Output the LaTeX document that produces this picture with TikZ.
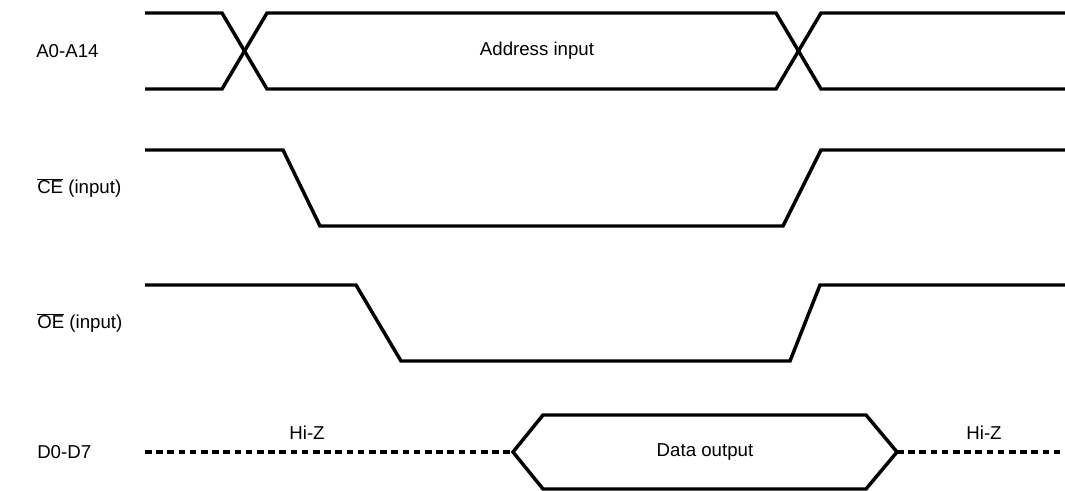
\documentclass[tikz,border=0pt]{standalone}
\usepackage{fontspec}
\setmainfont{Liberation Sans}
\begin{document}
\begin{tikzpicture}[x=0.75pt,y=-0.75pt,
  wave/.style={line width=2.6pt,line join=miter,black},
  hiz/.style={line width=2.6pt,dash pattern=on 5pt off 3.4pt,black},
  sig/.style={anchor=west,inner sep=0pt,font=\fontsize{14}{16}\selectfont},
  lbl/.style={inner sep=0pt,font=\fontsize{14}{16}\selectfont}]
\useasboundingbox (0,0) rectangle (1065,491);
% labels
\node[sig] (la) at (36,51) {A0-A14};
\node[sig] (lce) at (37,188) {$\overline{\hbox{CE}}$ (input)};
\node[sig] (loe) at (37,323) {$\overline{\hbox{OE}}$ (input)};
\node[sig] (ld) at (37,452) {D0-D7};
% address bus
\draw[wave] (145,13) -- (222,13) -- (267,89) -- (776,89) -- (821,13) -- (1065,13);
\draw[wave] (145,89) -- (222,89) -- (267,13) -- (776,13) -- (821,89) -- (1065,89);
\node[lbl] (addr) at (537,51) {Address input};
% CE
\draw[wave] (145,150) -- (283,150) -- (320,226) -- (783,226) -- (821,150) -- (1065,150);
% OE
\draw[wave] (145,285) -- (356,285) -- (401,361) -- (790,361) -- (820,285) -- (1065,285);
% data bus
\coordinate (dl) at (513,452);
\coordinate (dr) at (897,452);
\draw[hiz] (145,452) -- (dl);
\draw[hiz] (dr) -- (1065,452);
\draw[wave] (dl) -- (543,415) -- (866,415) -- (dr) -- (866,489) -- (543,489) -- cycle;
\node[lbl] (dout) at (705,452) {Data output};
\node[lbl] (hz1) at (307,433) {Hi-Z};
\node[lbl] (hz2) at (984,433) {Hi-Z};
\end{tikzpicture}
\end{document}
